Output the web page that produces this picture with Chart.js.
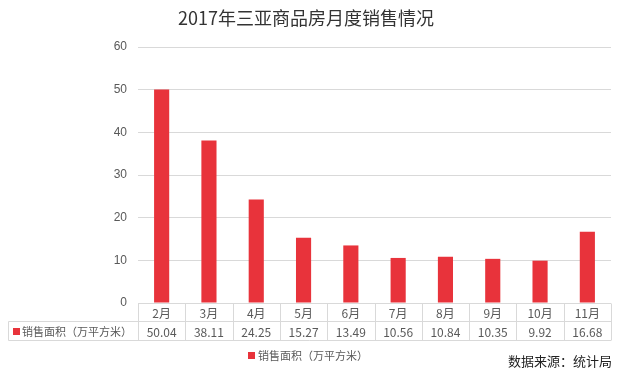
<!DOCTYPE html>
<html>
<head>
<meta charset="utf-8">
<script src="https://cdn.jsdelivr.net/npm/chart.js@4.4.1/dist/chart.umd.min.js"></script>
<style>
  html, body { margin: 0; padding: 0; background: #fff; }
  #wrap { width: 624px; height: 376px; }
</style>
</head>
<body>
<div id="wrap"><canvas id="myChart" width="624" height="376"></canvas></div>
<script>
const months = ['2月', '3月', '4月', '5月', '6月', '7月', '8月', '9月', '10月', '11月'];
const area = [50.04, 38.11, 24.25, 15.27, 13.49, 10.56, 10.84, 10.35, 9.92, 16.68];
const seriesName = '销售面积（万平方米）';
const yTicks = [0, 10, 20, 30, 40, 50, 60];
const titleText = '2017年三亚商品房月度销售情况';
const sourceText = '数据来源：统计局';

const barColor = '#E8333B';
const lineColor = '#d9d9d9';
const textColor = '#595959';
const cjk = '"Microsoft YaHei", "Noto Sans CJK SC", sans-serif';

// draws title, data table under the axis, legend and source note
const extras = {
  id: 'extras',
  afterDraw(chart) {
    const ctx = chart.ctx;
    const x = chart.scales.x;
    const ca = chart.chartArea;
    const n = months.length;
    const w = (ca.right - ca.left) / n;
    const top = Math.round(ca.bottom) + 0.5;
    const mid = top + 18;
    const bot = top + 37;
    const labelLeft = 8.5;

    ctx.save();
    ctx.strokeStyle = lineColor;
    ctx.lineWidth = 1;
    ctx.beginPath();
    ctx.moveTo(ca.left, top); ctx.lineTo(ca.right, top);
    ctx.moveTo(labelLeft, mid); ctx.lineTo(ca.right, mid);
    ctx.moveTo(labelLeft, bot); ctx.lineTo(ca.right, bot);
    ctx.moveTo(labelLeft, mid); ctx.lineTo(labelLeft, bot);
    for (let i = 0; i <= n; i++) {
      const lx = Math.round(ca.left + i * w) + 0.5;
      ctx.moveTo(lx, top); ctx.lineTo(lx, bot);
    }
    ctx.stroke();

    ctx.fillStyle = textColor;
    ctx.font = '12px ' + cjk;
    ctx.textAlign = 'center';
    ctx.textBaseline = 'middle';
    months.forEach((m, i) => {
      const cx = x.getPixelForValue(i);
      ctx.fillText(m, cx, (top + mid) / 2 + 1);
      ctx.fillText(area[i].toFixed(2), cx, (mid + bot) / 2 + 1);
    });

    // row label with colour key
    ctx.fillStyle = barColor;
    ctx.fillRect(13, (mid + bot) / 2 - 3, 7, 7);
    ctx.fillStyle = textColor;
    ctx.font = '11px ' + cjk;
    ctx.textAlign = 'left';
    ctx.fillText(seriesName, 22, (mid + bot) / 2 + 1);

    // title
    ctx.fillStyle = '#333333';
    ctx.font = '18px ' + cjk;
    ctx.textAlign = 'center';
    ctx.fillText(titleText, 306, 18);

    // legend
    ctx.fillStyle = barColor;
    ctx.fillRect(248, 352, 7, 7);
    ctx.fillStyle = textColor;
    ctx.font = '11px ' + cjk;
    ctx.textAlign = 'left';
    ctx.fillText(seriesName, 258, 356);

    // source
    ctx.fillStyle = '#222222';
    ctx.font = '13px ' + cjk;
    ctx.textAlign = 'right';
    ctx.fillText(sourceText, 612, 361);
    ctx.restore();
  }
};

const ctx = document.getElementById('myChart').getContext('2d');
new Chart(ctx, {
  type: 'bar',
  data: {
    labels: months,
    datasets: [{
      label: seriesName,
      data: area,
      backgroundColor: barColor,
      barPercentage: 0.32,
      categoryPercentage: 1
    }]
  },
  options: {
    responsive: false,
    animation: false,
    layout: { padding: { top: 47, bottom: 73, right: 13, left: 0 } },
    plugins: {
      legend: { display: false },
      tooltip: { enabled: false }
    },
    scales: {
      x: { display: false },
      y: {
        min: 0,
        max: 60,
        afterFit(scale) { scale.width = 138; },
        afterBuildTicks(scale) { scale.ticks = yTicks.map(v => ({ value: v })); },
        border: { display: false },
        grid: { color: lineColor, drawTicks: false },
        ticks: {
          padding: 11,
          color: textColor,
          font: { size: 12, family: 'Liberation Sans, Arial, sans-serif' }
        }
      }
    }
  },
  plugins: [extras]
});
</script>
</body>
</html>
